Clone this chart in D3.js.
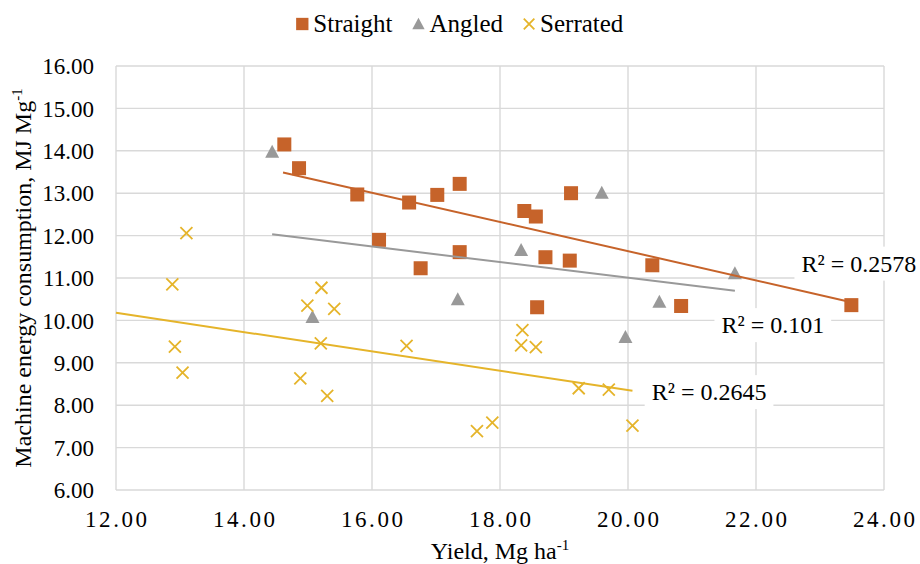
<!DOCTYPE html>
<html>
<head>
<meta charset="utf-8">
<script src="https://cdn.jsdelivr.net/npm/d3@7"></script>
<style>
  body { margin: 0; background: #fff; }
  svg, svg text { font-family: "Liberation Serif", "Times New Roman", serif; fill: #000; }
</style>
</head>
<body>
<svg id="chart" width="920" height="564"></svg>
<script>
// Series names (legend order)
const seriesNames = ["Straight", "Angled", "Serrated"];

// Straight blade: yield (Mg/ha) and machine energy (MJ/Mg)
const straightX = [14.63, 14.86, 15.77, 16.11, 16.58, 16.76, 17.02, 17.37, 17.37, 18.38,
                   18.56, 18.58, 18.71, 19.09, 19.11, 20.38, 20.83, 23.49];
const straightY = [14.15, 13.59, 12.97, 11.90, 12.78, 11.23, 12.96, 13.22, 11.61, 12.58,
                   12.45, 10.31, 11.49, 11.41, 13.00, 11.30, 10.34, 10.36];

// Angled blade
const angledX = [14.44, 15.07, 17.34, 18.33, 19.59, 19.96, 20.49, 21.67];
const angledY = [13.98, 10.08, 10.50, 11.66, 13.01, 9.61, 10.44, 11.11];

// Serrated blade
const serratedX = [12.88, 12.92, 13.04, 13.10, 14.88, 14.99, 15.20, 15.21, 15.30, 15.41,
                   16.54, 17.64, 17.88, 18.33, 18.35, 18.56, 19.23, 19.70, 20.07];
const serratedY = [10.85, 9.38, 8.77, 12.06, 8.63, 10.35, 9.46, 10.77, 8.22, 10.27,
                   9.40, 7.39, 7.59, 9.41, 9.77, 9.37, 8.40, 8.37, 7.52];

// Linear trendlines as shown in the chart: y = intercept + slope * x, over [from, to]
const trendSlope = [-0.3446, -0.184, -0.228];
const trendIntercept = [18.525, 14.687, 12.916];
const trendFrom = [14.61, 14.44, 12.0];
const trendTo = [23.49, 21.67, 20.07];
const rSquared = ["0.2578", "0.101", "0.2645"];

// Axis ticks
const xTicks = [12, 14, 16, 18, 20, 22, 24];
const yTicks = [6, 7, 8, 9, 10, 11, 12, 13, 14, 15, 16];

const FONT = '"Liberation Serif", "Times New Roman", serif';
const colors = ["#C6632A", "#999999", "#E5B42A"];
const shapes = ["square", "triangle", "cross"];

const series = [
  { xs: straightX, ys: straightY },
  { xs: angledX, ys: angledY },
  { xs: serratedX, ys: serratedY }
].map((s, i) => ({
  name: seriesNames[i], color: colors[i], shape: shapes[i], r2: rSquared[i],
  trend: { a: trendIntercept[i], b: trendSlope[i], x0: trendFrom[i], x1: trendTo[i] },
  points: s.xs.map((x, j) => ({ x: x, y: s.ys[j] }))
}));

// R² label anchors (data units, left edge / baseline)
const labelPos = [[22.71, 11.15], [21.46, 9.70], [20.37, 8.12]];

const margin = { top: 66, right: 36, bottom: 74, left: 116 };
const width = 920 - margin.left - margin.right;
const height = 564 - margin.top - margin.bottom;

const svg = d3.select("#chart").attr("font-family", FONT);
const g = svg.append("g").attr("transform", `translate(${margin.left},${margin.top})`);

const x = d3.scaleLinear().domain([12, 24]).range([0, width]);
const y = d3.scaleLinear().domain([6, 16]).range([height, 0]);

// Grid
g.append("g").selectAll("line").data(yTicks).enter().append("line")
  .attr("x1", 0).attr("x2", width)
  .attr("y1", d => y(d)).attr("y2", d => y(d))
  .attr("stroke", "#D9D9D9").attr("stroke-width", 1.4);
g.append("g").selectAll("line").data(xTicks).enter().append("line")
  .attr("y1", 0).attr("y2", height)
  .attr("x1", d => x(d)).attr("x2", d => x(d))
  .attr("stroke", "#D9D9D9").attr("stroke-width", 1.4);

// Tick labels
g.append("g").selectAll("text").data(yTicks).enter().append("text")
  .attr("x", -22).attr("y", d => y(d)).attr("dy", "0.36em")
  .attr("text-anchor", "end").attr("font-family", FONT).style("font-size", "23px")
  .text(d => d.toFixed(2));
g.append("g").selectAll("text").data(xTicks).enter().append("text")
  .attr("x", d => x(d) + 1.3).attr("y", height + 37)
  .attr("text-anchor", "middle").attr("font-family", FONT).style("font-size", "23px")
  .style("letter-spacing", "2.6px")
  .text(d => d.toFixed(2));

// Axis titles
const yTitle = svg.append("text")
  .attr("transform", `translate(31,${margin.top + height / 2}) rotate(-90)`)
  .attr("text-anchor", "middle").attr("font-family", FONT).style("font-size", "24px");
yTitle.append("tspan").text("Machine energy consumption, MJ Mg");
yTitle.append("tspan").attr("dy", -9).style("font-size", "15px").text("-1");

const xTitle = svg.append("text")
  .attr("x", margin.left + width / 2).attr("y", 559)
  .attr("text-anchor", "middle").attr("font-family", FONT).style("font-size", "24px");
xTitle.append("tspan").text("Yield, Mg ha");
xTitle.append("tspan").attr("dy", -9).style("font-size", "15px").text("-1");

// Marker drawing
function drawMarker(sel, shape, color, k) {
  if (shape === "square") {
    sel.append("rect").attr("x", -7 * k).attr("y", -7 * k)
      .attr("width", 14 * k).attr("height", 14 * k).attr("fill", color);
  } else if (shape === "triangle") {
    sel.append("path").attr("d", d3.line()([[0, -7 * k], [7 * k, 6 * k], [-7 * k, 6 * k]]) + "Z")
      .attr("fill", color);
  } else {
    const r = 6 * k;
    sel.append("path").attr("d", `M${-r},${-r} L${r},${r} M${-r},${r} L${r},${-r}`)
      .attr("stroke", color).attr("stroke-width", 1.8).attr("fill", "none");
  }
}

series.forEach(s => {
  g.append("g").selectAll("g").data(s.points).enter().append("g")
    .attr("transform", d => `translate(${x(d.x)},${y(d.y)})`)
    .each(function() { drawMarker(d3.select(this), s.shape, s.color, 1); });
});

// Trendlines
series.forEach(s => {
  const t = s.trend;
  g.append("line")
    .attr("x1", x(t.x0)).attr("y1", y(t.a + t.b * t.x0))
    .attr("x2", x(t.x1)).attr("y2", y(t.a + t.b * t.x1))
    .attr("stroke", s.color).attr("stroke-width", 2);
});

// R² labels with white boxes
series.forEach((s, i) => {
  const lg = g.append("g");
  const t = lg.append("text")
    .attr("x", x(labelPos[i][0])).attr("y", y(labelPos[i][1]))
    .attr("font-family", FONT).style("font-size", "24px").text("R² = " + s.r2);
  const bb = t.node().getBBox();
  lg.insert("rect", "text")
    .attr("x", bb.x - 7).attr("y", bb.y - 4)
    .attr("width", bb.width + 14).attr("height", bb.height + 8)
    .attr("fill", "#fff");
});

// Legend
const legend = svg.append("g");
let lx = 0;
series.forEach(s => {
  const item = legend.append("g").attr("transform", `translate(${lx},0)`);
  const m = item.append("g").attr("transform", "translate(6,0)");
  drawMarker(m, s.shape, s.color, 0.88);
  const t = item.append("text").attr("x", 17).attr("y", 8)
    .attr("font-family", FONT).style("font-size", "25px").text(s.name);
  lx += 17 + t.node().getComputedTextLength() + 20;
});
const lb = legend.node().getBBox();
legend.attr("transform", `translate(${460 - lb.width / 2 - lb.x},24)`);
</script>
</body>
</html>
